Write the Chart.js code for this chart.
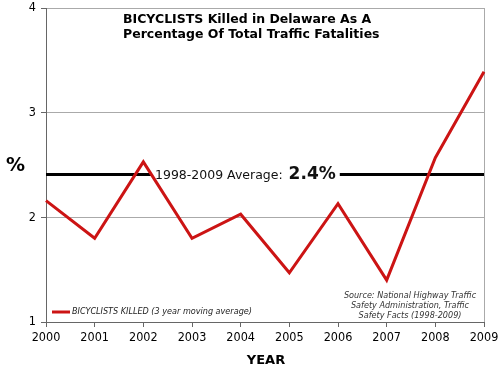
<!DOCTYPE html>
<html>
<head>
<meta charset="utf-8">
<script src="https://cdn.jsdelivr.net/npm/chart.js@4/dist/chart.umd.min.js"></script>
<style>
  html, body { margin: 0; padding: 0; background: #fff; }
  #chart { display: block; }
</style>
</head>
<body>
<canvas id="chart" width="500" height="372"></canvas>
<script>
// 数据
const years = ['2000', '2001', '2002', '2003', '2004', '2005', '2006', '2007', '2008', '2009'];
const bicyclistsKilled = [2.16, 1.80, 2.53, 1.80, 2.03, 1.47, 2.13, 1.40, 2.57, 3.39];
const averageValue = 2.41;
const averageLine = years.map(() => averageValue);
const yTicks = [1, 2, 3, 4];

const FONT = '"DejaVu Sans", Verdana, sans-serif';
const FONT_COND = '"DejaVu Sans Condensed", "DejaVu Sans", sans-serif';

// 自定义文字绘制
const annotations = {
    id: 'annotations',
    afterDatasetDraw(chart, args) {
        // 平均线标签（画在红线下面）
        if (args.index !== 1) return;
        const ctx = chart.ctx;
        const y = chart.scales.y.getPixelForValue(averageValue);
        ctx.save();
        ctx.font = '12.5px ' + FONT;
        const t1 = '1998-2009 Average: ';
        const w1 = ctx.measureText(t1).width;
        ctx.font = 'bold 17px ' + FONT;
        const t2 = '2.4%';
        const w2 = ctx.measureText(t2).width;
        const x0 = 155;
        ctx.fillStyle = '#fff';
        ctx.fillRect(x0 - 4, y - 10, w1 + w2 + 10, 20);
        ctx.fillStyle = '#111';
        ctx.textBaseline = 'middle';
        ctx.font = '12.5px ' + FONT;
        ctx.fillText(t1, x0, y + 1);
        ctx.font = 'bold 17px ' + FONT;
        ctx.fillText(t2, x0 + w1 + 2, y);
        ctx.restore();
    },
    afterDraw(chart) {
        const ctx = chart.ctx;
        ctx.save();
        ctx.fillStyle = '#000';
        ctx.textBaseline = 'middle';

        // 标题
        ctx.font = 'bold 12.5px ' + FONT;
        ctx.textAlign = 'left';
        ctx.fillText('BICYCLISTS Killed in Delaware As A', 123, 20);
        ctx.fillText('Percentage Of Total Traffic Fatalities', 123, 35);

        // 坐标轴标题
        ctx.font = 'bold 19px ' + FONT;
        ctx.fillText('%', 6, 166);
        ctx.font = 'bold 13px ' + FONT;
        ctx.textAlign = 'center';
        ctx.fillText('YEAR', 266, 361);

        // 图例
        ctx.strokeStyle = '#cc1414';
        ctx.lineWidth = 3;
        ctx.beginPath();
        ctx.moveTo(52, 312);
        ctx.lineTo(70, 312);
        ctx.stroke();
        ctx.textAlign = 'left';
        ctx.fillStyle = '#222';
        ctx.font = 'italic 9px ' + FONT_COND;
        ctx.fillText('BICYCLISTS KILLED (3 year moving average)', 72, 312);

        // 数据来源
        ctx.fillStyle = '#333';
        ctx.textAlign = 'center';
        ctx.fillText('Source: National Highway Traffic', 410, 296);
        ctx.fillText('Safety Administration, Traffic', 410, 306);
        ctx.fillText('Safety Facts (1998-2009)', 410, 316);
        ctx.restore();
    }
};

new Chart(document.getElementById('chart'), {
    type: 'line',
    data: {
        labels: years,
        datasets: [
            {
                label: 'BICYCLISTS KILLED (3 year moving average)',
                data: bicyclistsKilled,
                borderColor: '#cc1414',
                borderWidth: 3,
                pointRadius: 0,
                tension: 0,
                fill: false
            },
            {
                label: '1998-2009 Average',
                data: averageLine,
                borderColor: '#000',
                borderWidth: 3,
                pointRadius: 0,
                fill: false
            }
        ]
    },
    options: {
        responsive: false,
        animation: false,
        layout: { padding: { top: 8, right: 16, left: 0, bottom: 0 } },
        plugins: {
            legend: { display: false },
            tooltip: { enabled: false },
            title: { display: false }
        },
        scales: {
            x: {
                offset: false,
                afterFit(scale) {
                    scale.height = 50;
                    scale.paddingLeft = 0;
                    scale.paddingRight = 0;
                },
                grid: {
                    color: (c) => c.index === years.length - 1 ? '#aaa' : 'rgba(0,0,0,0)',
                    tickColor: '#666',
                    tickLength: 5,
                    drawOnChartArea: true
                },
                border: { color: '#666', width: 1 },
                ticks: {
                    color: '#000',
                    font: { family: FONT_COND, size: 12.5 },
                    maxRotation: 0,
                    autoSkip: false,
                    padding: 3
                }
            },
            y: {
                min: 1,
                max: 4,
                afterFit(scale) {
                    scale.width = 46;
                    scale.paddingTop = 0;
                    scale.paddingBottom = 0;
                },
                afterBuildTicks(scale) {
                    scale.ticks = yTicks.map(v => ({ value: v }));
                },
                grid: {
                    color: '#aaa',
                    tickColor: '#666',
                    tickLength: 5
                },
                border: { color: '#666', width: 1 },
                ticks: {
                    color: '#000',
                    font: { family: FONT_COND, size: 12.5 },
                    padding: 5
                }
            }
        }
    },
    plugins: [annotations]
});
</script>
</body>
</html>
